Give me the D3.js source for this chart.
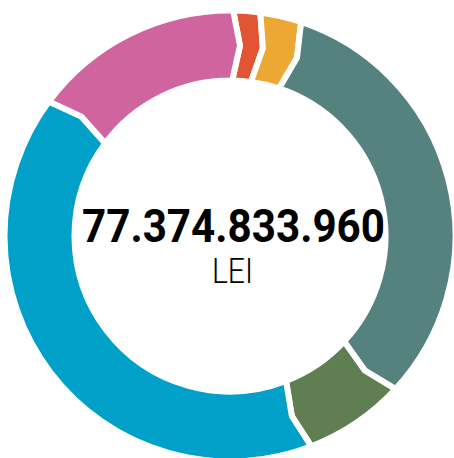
<!DOCTYPE html>
<meta charset="utf-8">
<style>
body { margin: 0; background: #fff; }
.slices path { stroke: #fff; stroke-width: 6px; stroke-linejoin: miter; }
</style>
<svg width="454" height="458"></svg>
<script src="https://d3js.org/d3.v7.min.js"></script>
<script>

// amounts per category, clockwise from the top
var categories = ["a", "b", "c", "d", "e", "f"];
var values = [1.49e9, 2.29e9, 24.58e9, 5.61e9, 31.75e9, 11.65e9];
var colors = ["#e35532", "#eca832", "#55827f", "#5f7f52", "#00a0c8", "#d0649f"];
var totalLabel = "77.374.833.960";
var unitLabel = "LEI";

var svg = d3.select("svg"),
    cx = 230, cy = 236,
    rOuter = 225.5, rInner = 155.5,   // includes half the white stroke
    rMid = (rOuter + rInner) / 2,
    tip = 2.2 * Math.PI / 180;          // chevron point offset

var pie = d3.pie()
    .sort(null)
    .startAngle(0.8 * Math.PI / 180)
    .endAngle(2 * Math.PI + 0.8 * Math.PI / 180);

var arcs = pie(values);

function pt(r, a) { return [r * Math.sin(a), -r * Math.cos(a)]; }

function chevron(d) {
  var p = d3.path(),
      a0 = d.startAngle, a1 = d.endAngle, q;
  q = pt(rOuter, a0); p.moveTo(q[0], q[1]);
  p.arc(0, 0, rOuter, a0 - Math.PI / 2, a1 - Math.PI / 2, false);
  q = pt(rMid, a1 + tip); p.lineTo(q[0], q[1]);
  q = pt(rInner, a1); p.lineTo(q[0], q[1]);
  p.arc(0, 0, rInner, a1 - Math.PI / 2, a0 - Math.PI / 2, true);
  q = pt(rMid, a0 + tip); p.lineTo(q[0], q[1]);
  p.closePath();
  return p.toString();
}

var g = svg.append("g")
    .attr("class", "slices")
    .attr("transform", "translate(" + cx + "," + cy + ")");

g.selectAll("path")
  .data(arcs)
  .enter().append("path")
    .attr("d", chevron)
    .attr("fill", function(d, i) { return colors[i]; });

svg.append("text")
    .attr("x", 233.5)
    .attr("y", 242)
    .attr("text-anchor", "middle")
    .attr("textLength", 303)
    .attr("lengthAdjust", "spacingAndGlyphs")
    .style("font-family", "Roboto, sans-serif")
    .style("font-weight", 700)
    .style("font-size", "47px")
    .attr("fill", "#000")
    .text(totalLabel);

svg.append("text")
    .attr("x", 232.5)
    .attr("y", 283)
    .attr("text-anchor", "middle")
    .attr("textLength", 41)
    .attr("lengthAdjust", "spacingAndGlyphs")
    .style("font-family", "Roboto, sans-serif")
    .style("font-weight", 300)
    .style("font-size", "35px")
    .attr("fill", "#000")
    .text(unitLabel);

</script>
